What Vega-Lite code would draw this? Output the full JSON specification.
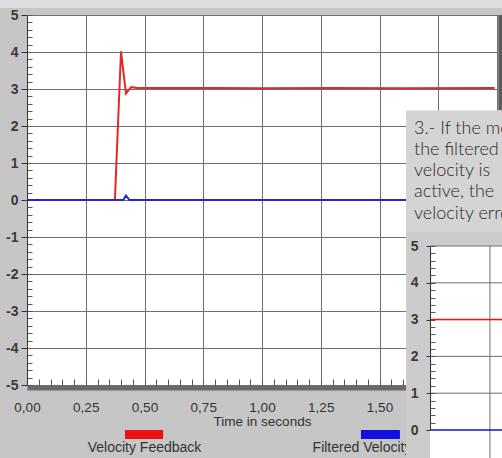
{
  "$schema": "https://vega.github.io/schema/vega-lite/v6.json",
  "width": 470,
  "height": 370,
  "autosize": {"type": "none"},
  "padding": {"left": 27, "top": 15, "right": 5, "bottom": 73},
  "background": "#c6c6c6",
  "config": {
    "view": {"fill": "#ffffff", "stroke": "#4a4a4a", "strokeWidth": 1},
    "font": "Liberation Sans",
    "axis": {"labelFont": "Liberation Sans", "titleFont": "Liberation Sans"}
  },
  "datasets": {
    "signals": [
      {"t": 0, "v": 0, "series": "Velocity Feedback"},
      {"t": 0.2, "v": 0, "series": "Velocity Feedback"},
      {"t": 0.374, "v": 0, "series": "Velocity Feedback"},
      {"t": 0.4, "v": 4.02, "series": "Velocity Feedback"},
      {"t": 0.421, "v": 2.88, "series": "Velocity Feedback"},
      {"t": 0.443, "v": 3.05, "series": "Velocity Feedback"},
      {"t": 0.47, "v": 3.03, "series": "Velocity Feedback"},
      {"t": 0.8, "v": 3.03, "series": "Velocity Feedback"},
      {"t": 1.0, "v": 3.02, "series": "Velocity Feedback"},
      {"t": 1.3, "v": 3.03, "series": "Velocity Feedback"},
      {"t": 1.6, "v": 3.02, "series": "Velocity Feedback"},
      {"t": 1.99, "v": 3.03, "series": "Velocity Feedback"},
      {"t": 0, "v": 0, "series": "Filtered Velocity Error"},
      {"t": 0.41, "v": 0, "series": "Filtered Velocity Error"},
      {"t": 0.421, "v": 0.12, "series": "Filtered Velocity Error"},
      {"t": 0.436, "v": 0, "series": "Filtered Velocity Error"},
      {"t": 1.0, "v": 0, "series": "Filtered Velocity Error"},
      {"t": 1.6, "v": 0, "series": "Filtered Velocity Error"},
      {"t": 1.99, "v": 0, "series": "Filtered Velocity Error"}
    ],
    "legend": [
      {"series": "Velocity Feedback", "a": 0.417, "b": 0.579, "c": 0.5},
      {"series": "Filtered Velocity Error", "a": 1.421, "b": 1.587, "c": 1.5}
    ],
    "inset": [
      {"t": 1.715, "v": 3, "series": "Velocity Feedback"},
      {"t": 2.05, "v": 3, "series": "Velocity Feedback"},
      {"t": 1.715, "v": 0, "series": "Filtered Velocity Error"},
      {"t": 2.05, "v": 0, "series": "Filtered Velocity Error"}
    ],
    "insetGrid": [{"level": 1}, {"level": 2}, {"level": 3}, {"level": 4}, {"level": 5}],
    "note": [{"text": "3.- If the motor moves,\nthe filtered\nvelocity is\nactive, the\nvelocity error"}]
  },
  "resolve": {"scale": {"y": "independent"}},
  "layer": [
    {
      "resolve": {"axis": {"x": "independent", "y": "independent"}},
      "layer": [
        {
          "data": {"values": [{}]},
          "mark": {"type": "rect", "color": "#dedede"},
          "encoding": {
            "x": {"datum": -0.2, "type": "quantitative", "scale": {"domain": [0, 2]}, "axis": null},
            "x2": {"datum": 2.1},
            "y": {"datum": 5.41, "type": "quantitative", "scale": {"domain": [-5, 5]}, "axis": null},
            "y2": {"datum": 5.19}
          }
        },
        {
          "data": {"name": "signals"},
          "transform": [{"filter": "datum.series == 'Velocity Feedback'"}],
          "mark": {"type": "line", "color": "#e02a2a", "strokeWidth": 2},
          "encoding": {
            "x": {"field": "t", "type": "quantitative", "scale": {"domain": [0, 2]},
              "axis": {"orient": "bottom", "values": [0, 0.25, 0.5, 0.75, 1, 1.25, 1.5, 1.75, 2],
                "grid": true, "gridColor": "#707070", "gridWidth": 1, "ticks": false,
                "domain": true, "domainColor": "#6a6a6a", "domainWidth": 5, "offset": 2.5,
                "labelExpr": "replace(format(datum.value, '.2f'), '.', ',')",
                "labelFontSize": 13.5, "labelColor": "#333333", "labelPadding": 13,
                "labelFlush": false, "labelOverlap": false,
                "title": "Time in seconds", "titleFontSize": 13.5, "titleFontWeight": "normal",
                "titleColor": "#333333", "titlePadding": 0}},
            "y": {"field": "v", "type": "quantitative", "scale": {"domain": [-5, 5]},
              "axis": {"orient": "left", "values": [-5, -4, -3, -2, -1, 0, 1, 2, 3, 4, 5],
                "grid": true, "gridColor": "#707070", "gridWidth": 1,
                "tickSize": 6, "tickColor": "#333333", "domainColor": "#333333",
                "labelExpr": "'' + datum.value", "labelFontSize": 14, "labelFontWeight": "bold",
                "labelColor": "#3a3a3a", "labelPadding": 3, "labelFlush": false,
                "labelOverlap": false, "title": null}}
          }
        },
        {
          "data": {"name": "signals"},
          "transform": [{"filter": "datum.series == 'Filtered Velocity Error'"}],
          "mark": {"type": "line", "color": "#2626c4", "strokeWidth": 2},
          "encoding": {
            "x": {"field": "t", "type": "quantitative", "scale": {"domain": [0, 2]},
              "axis": {"orient": "bottom", "tickCount": 40, "grid": false, "labels": false,
                "domain": false, "tickSize": -6, "tickColor": "#555555", "title": null}},
            "y": {"field": "v", "type": "quantitative", "scale": {"domain": [-5, 5]},
              "axis": {"orient": "left", "tickCount": 50, "grid": false, "labels": false,
                "domain": false, "tickSize": -5, "tickColor": "#555555", "title": null}}
          }
        },
        {
          "data": {"name": "legend"},
          "mark": {"type": "rect"},
          "encoding": {
            "x": {"field": "a", "type": "quantitative", "scale": {"domain": [0, 2]}, "axis": null},
            "x2": {"field": "b"},
            "y": {"datum": -6.216, "type": "quantitative", "scale": {"domain": [-5, 5]}, "axis": null},
            "y2": {"datum": -6.459},
            "color": {"field": "series", "type": "nominal", "legend": null,
              "scale": {"domain": ["Velocity Feedback", "Filtered Velocity Error"], "range": ["#ee1111", "#1111dd"]}}
          }
        },
        {
          "data": {"name": "legend"},
          "mark": {"type": "text", "fontSize": 14, "color": "#333333", "align": "center", "baseline": "middle"},
          "encoding": {
            "x": {"field": "c", "type": "quantitative", "scale": {"domain": [0, 2]}, "axis": null},
            "y": {"datum": -6.7, "type": "quantitative", "scale": {"domain": [-5, 5]}, "axis": null},
            "text": {"field": "series"}
          }
        },
        {
          "data": {"values": [{}]},
          "mark": {"type": "rect", "color": "#5a5a5a"},
          "encoding": {
            "x": {"datum": 2.006, "type": "quantitative", "scale": {"domain": [0, 2]}, "axis": null},
            "x2": {"datum": 2.03},
            "y": {"datum": 5, "type": "quantitative", "scale": {"domain": [-5, 5]}, "axis": null},
            "y2": {"datum": 2.43}
          }
        }
      ]
    },
    {
      "resolve": {"axis": {"y": "independent"}},
      "layer": [
        {
          "data": {"values": [{}]},
          "mark": {"type": "rect", "color": "#d4d4d4"},
          "encoding": {
            "x": {"datum": 1.613, "type": "quantitative", "scale": {"domain": [0, 2]}, "axis": null},
            "x2": {"datum": 2.1},
            "y": {"datum": 8.68, "type": "quantitative", "scale": {"domain": [0, 5], "range": [415, 231]}, "axis": null},
            "y2": {"datum": 5.378}
          }
        },
        {
          "data": {"values": [{}]},
          "mark": {"type": "rect", "color": "#cccccc"},
          "encoding": {
            "x": {"datum": 1.613, "type": "quantitative", "scale": {"domain": [0, 2]}, "axis": null},
            "x2": {"datum": 2.1},
            "y": {"datum": 5.378, "type": "quantitative", "scale": {"domain": [0, 5], "range": [415, 231]}, "axis": null},
            "y2": {"datum": -1}
          }
        },
        {
          "data": {"values": [{}]},
          "mark": {"type": "rect", "color": "#ffffff"},
          "encoding": {
            "x": {"datum": 1.715, "type": "quantitative", "scale": {"domain": [0, 2]}, "axis": null},
            "x2": {"datum": 2.1},
            "y": {"datum": 5, "type": "quantitative", "scale": {"domain": [0, 5], "range": [415, 231]},
              "axis": {"orient": "left", "offset": -403, "values": [0, 1, 2, 3, 4, 5], "grid": false,
                "tickSize": 4, "tickColor": "#333333", "domainColor": "#333333",
                "labelFontSize": 14, "labelFontWeight": "bold", "labelColor": "#3a3a3a",
                "labelPadding": 8, "labelFlush": false, "labelOverlap": false,
                "title": null, "zindex": 2}},
            "y2": {"datum": -1}
          }
        },
        {
          "data": {"name": "insetGrid"},
          "mark": {"type": "rule", "color": "#707070", "strokeWidth": 1},
          "encoding": {
            "x": {"datum": 1.715, "type": "quantitative", "scale": {"domain": [0, 2]}, "axis": null},
            "x2": {"datum": 2.1},
            "y": {"field": "level", "type": "quantitative", "scale": {"domain": [0, 5], "range": [415, 231]}, "axis": null}
          }
        },
        {
          "data": {"values": [{}]},
          "mark": {"type": "rule", "color": "#707070", "strokeWidth": 1},
          "encoding": {
            "x": {"datum": 1.97, "type": "quantitative", "scale": {"domain": [0, 2]}, "axis": null},
            "y": {"datum": 5, "type": "quantitative", "scale": {"domain": [0, 5], "range": [415, 231]}, "axis": null},
            "y2": {"datum": -1}
          }
        },
        {
          "data": {"name": "inset"},
          "mark": {"type": "line", "strokeWidth": 1.5},
          "encoding": {
            "x": {"field": "t", "type": "quantitative", "scale": {"domain": [0, 2]}, "axis": null},
            "y": {"field": "v", "type": "quantitative", "scale": {"domain": [0, 5], "range": [415, 231]},
              "axis": {"orient": "left", "offset": -403, "tickCount": 25, "grid": false, "labels": false,
                "domain": false, "tickSize": -5, "tickColor": "#555555", "title": null, "zindex": 2}},
            "color": {"field": "series", "type": "nominal", "legend": null,
              "scale": {"domain": ["Velocity Feedback", "Filtered Velocity Error"], "range": ["#e06a6a", "#3a3aa8"]}}
          }
        },
        {
          "data": {"name": "note"},
          "mark": {"type": "text", "font": "Lato", "fontSize": 18, "fontWeight": 300, "color": "#2a2a2a", "align": "left",
            "baseline": "middle", "lineBreak": "\n", "lineHeight": 21.3},
          "encoding": {
            "x": {"datum": 1.647, "type": "quantitative", "scale": {"domain": [0, 2]}, "axis": null},
            "y": {"datum": 8.19, "type": "quantitative", "scale": {"domain": [0, 5], "range": [415, 231]}, "axis": null},
            "text": {"field": "text"}
          }
        }
      ]
    }
  ]
}
